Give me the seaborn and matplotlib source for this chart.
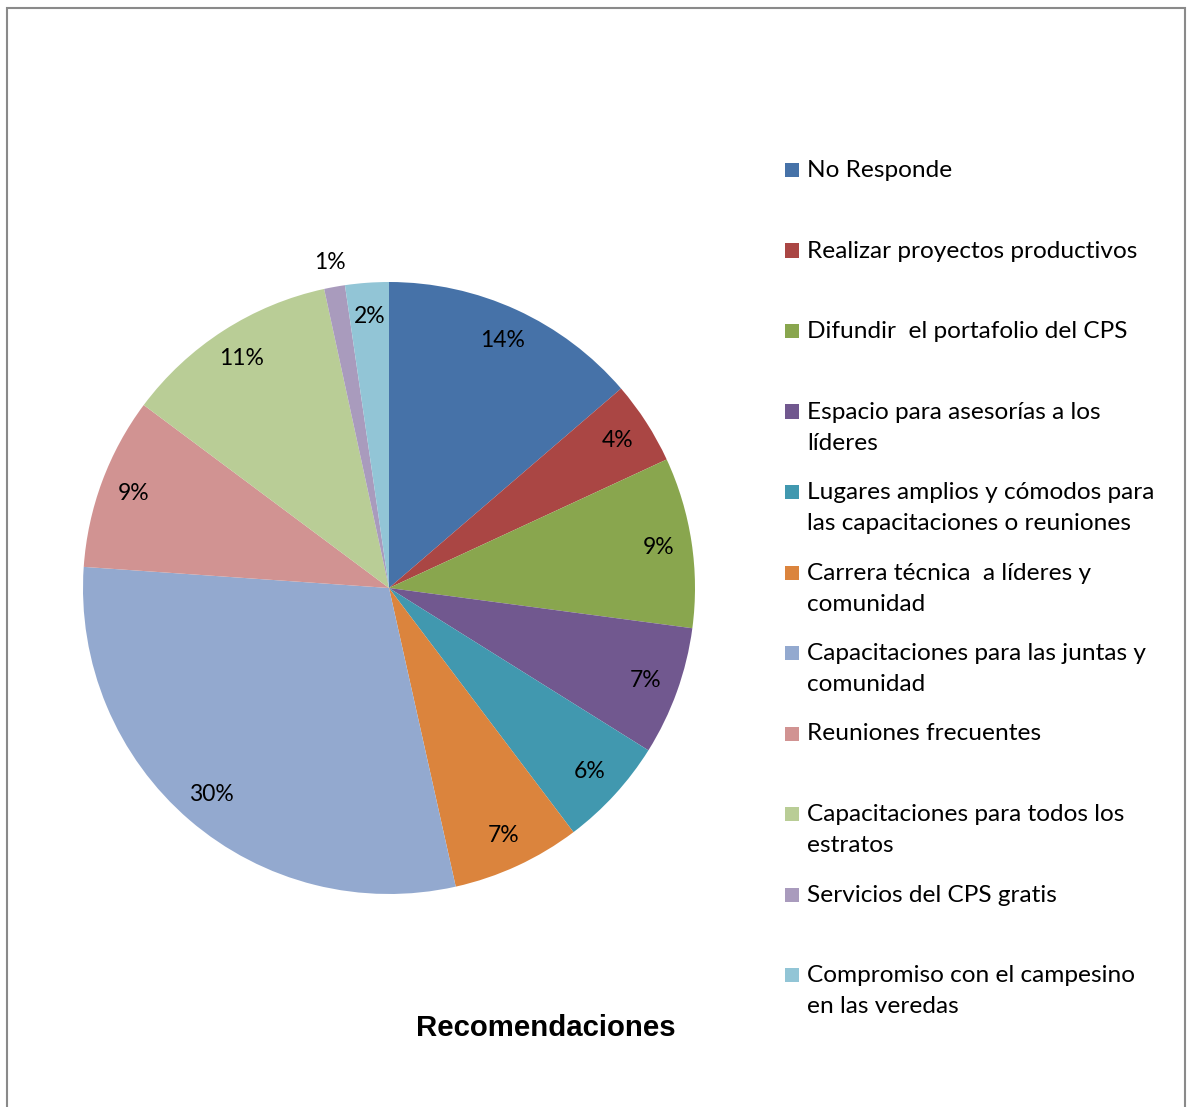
import matplotlib
matplotlib.use('Agg')
import matplotlib.pyplot as plt
from matplotlib.patches import Rectangle
import seaborn as sns
import numpy as np

# datos
categorias = [
    'No Responde',
    'Realizar proyectos productivos',
    'Difundir  el portafolio del CPS',
    'Espacio para asesorías a los\nlíderes',
    'Lugares amplios y cómodos para\nlas capacitaciones o reuniones',
    'Carrera técnica  a líderes y\ncomunidad',
    'Capacitaciones para las juntas y\ncomunidad',
    'Reuniones frecuentes',
    'Capacitaciones para todos los\nestratos',
    'Servicios del CPS gratis',
    'Compromiso con el campesino\nen las veredas',
]
porcentajes = [13.7, 4.4, 9.0, 6.8, 5.8, 6.8, 29.6, 9.1, 11.4, 1.1, 2.3]
colores = ['#4672A8', '#AA4644', '#89A64E', '#71588F', '#4198AF', '#DB843D',
           '#93A9CF', '#D19392', '#B9CD96', '#A99BBD', '#92C5D6']

sns.set_style('white')
plt.rcParams['font.family'] = ['Lato', 'DejaVu Sans']
plt.rcParams['text.color'] = 'black'

W, H = 1189, 1107
fig = plt.figure(figsize=(W / 100, H / 100), dpi=100)

# pastel: centro (389, 588), radio 306 px
cx, cy, r = 389, 588, 306
ax = fig.add_axes([(cx - r) / W, (H - cy - r) / H, 2 * r / W, 2 * r / H])
paleta = sns.color_palette(colores)
wedges, texts, autotexts = ax.pie(porcentajes, colors=paleta, startangle=90,
                                  counterclock=False, autopct='%.0f%%',
                                  pctdistance=0.89,
                                  wedgeprops=dict(linewidth=0),
                                  textprops=dict(fontsize=16.5, color='black'))
ax.set_xlim(-1, 1)
ax.set_ylim(-1, 1)
ax.set_aspect('equal')
ax.axis('off')

# la etiqueta del 1% va fuera del pastel
w = wedges[9]
ang = np.deg2rad((w.theta1 + w.theta2) / 2)
autotexts[9].set_position((1.08 * np.cos(ang), 1.08 * np.sin(ang)))

# leyenda manual
y0 = 170
paso = 80.5
for i, (cat, col) in enumerate(zip(categorias, colores)):
    y = y0 + i * paso
    fig.patches.append(Rectangle((785 / W, 1 - (y + 7) / H), 14 / W, 14 / H,
                                 transform=fig.transFigure, facecolor=col,
                                 edgecolor='none'))
    fig.text(807 / W, 1 - (y - 10) / H, cat, fontsize=17.6, va='top', ha='left',
             linespacing=1.6)

fig.text(546 / W, 1 - 1028 / H, 'Recomendaciones', fontsize=21.2,
         fontweight='bold', family='Liberation Sans', ha='center', va='center')

# borde del gráfico
fig.patches.append(Rectangle((7 / W, -0.02), (1185 - 7) / W, 1.02 - 8 / H,
                             transform=fig.transFigure, facecolor='none',
                             edgecolor='#8a8a8a', linewidth=1.5))

fig.savefig('out.png', dpi=100)
